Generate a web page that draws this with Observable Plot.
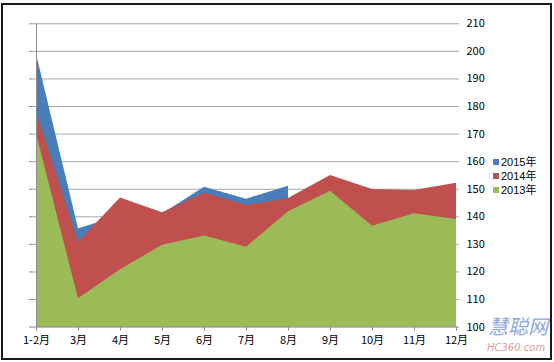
<!DOCTYPE html>
<html>
<head>
<meta charset="utf-8">
<script src="https://cdn.jsdelivr.net/npm/d3@7"></script>
<script src="https://cdn.jsdelivr.net/npm/@observablehq/plot@0.6"></script>
<style>
  body { margin: 0; background: #fff; }
  #wrap { position: relative; width: 554px; height: 362px; overflow: hidden; background: #fff;
          font-family: "Noto Sans CJK SC", "DejaVu Sans", sans-serif; }
  #frame { position: absolute; left: 1px; top: 3px; width: 551px; height: 357px; box-sizing: border-box;
           border: 2px solid #1a1a1a; pointer-events: none; }
  #legend { position: absolute; left: 493px; top: 155px; font-size: 10px; line-height: 14px; color: #000;
            font-family: "Liberation Sans", "Noto Sans CJK SC", sans-serif; }
  #legend div { display: flex; align-items: center; height: 14px; }
  #legend span.sw { display: inline-block; width: 6px; height: 6px; margin-right: 2px; }
  #legend span.tx { font-size: 11px; line-height: 14px; }
  #wm1 { position: absolute; left: 488px; top: 313px; font-size: 20px; line-height: 26px; font-style: italic;
         color: #7b98d8; opacity: 0.85; }
  #wm2 { position: absolute; left: 487px; top: 342px; font-size: 10px; line-height: 12px; font-style: italic;
         color: #e39a9a; font-family: "DejaVu Sans", sans-serif; }
</style>
</head>
<body>
<div id="wrap">
  <div id="chart"></div>
  <div id="legend"></div>
  <div id="wm1">慧聪网</div>
  <div id="wm2">HC360.com</div>
  <div id="frame"></div>
</div>
<script>
// Categories
const months = ["1-2月", "3月", "4月", "5月", "6月", "7月", "8月", "9月", "10月", "11月", "12月"];
// Series values
const v2015 = [199, 135.7, 140.3, 141, 150.7, 146.4, 151.1];
const v2014 = [178, 130.8, 146.8, 141.5, 148.6, 144.1, 146.6, 155, 149.9, 149.5, 152.2];
const v2013 = [170, 110.3, 120.8, 129.7, 133, 129, 141.8, 149.3, 136.6, 141.1, 139];
// Series names and tick values
const seriesNames = ["2015年", "2014年", "2013年"];
const yTicks = [100, 110, 120, 130, 140, 150, 160, 170, 180, 190, 200, 210];

const colors = { "2015年": "#4a7ebb", "2014年": "#c0504d", "2013年": "#9bbb59" };

function table(values) {
  return values.map((v, i) => ({ month: months[i], value: v }));
}
const t2015 = table(v2015), t2014 = table(v2014), t2013 = table(v2013);

const chart = Plot.plot({
  width: 554,
  height: 362,
  marginTop: 23.3,
  marginBottom: 35.4,
  marginLeft: 32,
  marginRight: 95,
  style: { fontSize: "11px", fontFamily: "'Noto Sans CJK SC', 'DejaVu Sans', sans-serif", background: "transparent", color: "#000" },
  x: { type: "point", domain: months, padding: 0 },
  y: { domain: [100, 210] },
  marks: [
    Plot.ruleY(yTicks.filter(d => d > 100), { stroke: "#a6a6a6", strokeWidth: 1 }),
    Plot.areaY(t2015, { x: "month", y1: 100, y2: "value", fill: colors["2015年"] }),
    Plot.areaY(t2014, { x: "month", y1: 100, y2: "value", fill: colors["2014年"] }),
    Plot.areaY(t2013, { x: "month", y1: 100, y2: "value", fill: colors["2013年"] }),
    Plot.ruleX([months[0]], { stroke: "#8c8c8c" }),
    Plot.ruleY([100], { stroke: "#8c8c8c" }),
    Plot.axisY(yTicks, { anchor: "left", tickSize: 3, tickFormat: () => "", stroke: "#8c8c8c", label: null }),
    Plot.axisY(yTicks, { anchor: "right", tickSize: 0, tickPadding: 7, fill: "#000", label: null }),
    Plot.axisX({ anchor: "bottom", tickSize: 4, tickPadding: 4.6, stroke: "#8c8c8c", fill: "#000", label: null })
  ]
});
document.getElementById("chart").appendChild(chart);

const legend = document.getElementById("legend");
for (const name of seriesNames) {
  const row = document.createElement("div");
  const sw = document.createElement("span");
  sw.className = "sw";
  sw.style.background = colors[name];
  const tx = document.createElement("span");
  tx.className = "tx";
  tx.textContent = name;
  row.appendChild(sw);
  row.appendChild(tx);
  legend.appendChild(row);
}
</script>
</body>
</html>
